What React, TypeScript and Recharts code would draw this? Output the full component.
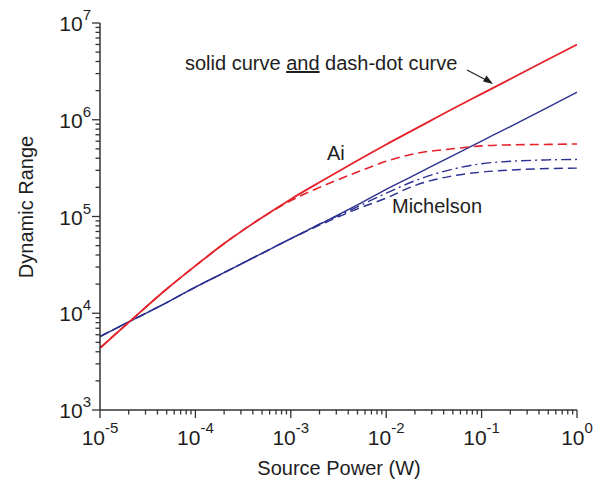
import React from 'react';
import { LineChart, Line, XAxis, YAxis, Customized } from 'recharts';

// Source power (W)
const power = [1e-5, 2e-5, 5e-5, 1e-4, 2e-4, 5e-4, 1e-3, 2e-3, 5e-3, 1e-2, 2e-2, 5e-2, 1e-1, 2e-1, 5e-1, 1];

// Ai interferometer
const aiSolid = [4.37e3, 8.04e3, 1.78e4, 3.09e4, 5.25e4, 9.77e4, 1.51e5, 2.26e5, 3.79e5, 5.55e5, 8.0e5, 1.3e6, 1.85e6, 2.64e6, 4.22e6, 6.0e6];
const aiDashed = [4.37e3, 8.04e3, 1.78e4, 3.09e4, 5.25e4, 9.77e4, 1.46e5, 2.0e5, 2.88e5, 3.72e5, 4.47e5, 5.01e5, 5.37e5, 5.5e5, 5.56e5, 5.62e5];

// Michelson interferometer
const michSolid = [5.75e3, 8.13e3, 1.29e4, 1.86e4, 2.63e4, 4.17e4, 5.89e4, 8.32e4, 1.32e5, 1.91e5, 2.69e5, 4.27e5, 6.03e5, 8.51e5, 1.35e6, 1.93e6];
const michDashDot = [5.75e3, 8.13e3, 1.29e4, 1.86e4, 2.63e4, 4.17e4, 5.89e4, 8.32e4, 1.26e5, 1.74e5, 2.34e5, 3.09e5, 3.51e5, 3.72e5, 3.85e5, 3.89e5];
const michDashed = [5.75e3, 8.13e3, 1.29e4, 1.86e4, 2.63e4, 4.17e4, 5.89e4, 8.13e4, 1.2e5, 1.55e5, 2.09e5, 2.63e5, 2.88e5, 3.02e5, 3.13e5, 3.16e5];

// Tick values (majors + minors)
const xTicks = [
  1e-5, 2e-5, 3e-5, 4e-5, 5e-5, 6e-5, 7e-5, 8e-5, 9e-5,
  1e-4, 2e-4, 3e-4, 4e-4, 5e-4, 6e-4, 7e-4, 8e-4, 9e-4,
  1e-3, 2e-3, 3e-3, 4e-3, 5e-3, 6e-3, 7e-3, 8e-3, 9e-3,
  1e-2, 2e-2, 3e-2, 4e-2, 5e-2, 6e-2, 7e-2, 8e-2, 9e-2,
  1e-1, 2e-1, 3e-1, 4e-1, 5e-1, 6e-1, 7e-1, 8e-1, 9e-1,
  1,
];
const yTicks = [
  1e3, 2e3, 3e3, 4e3, 5e3, 6e3, 7e3, 8e3, 9e3,
  1e4, 2e4, 3e4, 4e4, 5e4, 6e4, 7e4, 8e4, 9e4,
  1e5, 2e5, 3e5, 4e5, 5e5, 6e5, 7e5, 8e5, 9e5,
  1e6, 2e6, 3e6, 4e6, 5e6, 6e6, 7e6, 8e6, 9e6,
  1e7,
];

const rows = power.map((p, i) => ({
  p,
  aiSolid: aiSolid[i],
  aiDashed: aiDashed[i],
  michSolid: michSolid[i],
  michDashDot: michDashDot[i],
  michDashed: michDashed[i],
}));

const FONT = '"Liberation Sans", Arial, Helvetica, sans-serif';
const RED = '#e5222a';
const BLUE = '#2c3190';
const AXIS = '#333333';
const TEXT = '#1e1e1e';

const expOf = (v: number) => {
  const e = Math.log10(v);
  const r = Math.round(e);
  return { r, major: Math.abs(e - r) < 1e-6 };
};

const XTick = (props: any) => {
  const { x, y, payload } = props;
  const { r, major } = expOf(payload.value);
  return (
    <g>
      <line x1={x} x2={x} y1={y} y2={y + (major ? 8 : 4.5)} stroke={AXIS} strokeWidth={1.3} />
      {major && (
        <text x={x} y={y + 35} textAnchor="middle" fontSize={21} fill={TEXT} fontFamily={FONT}>
          10<tspan dy={-12} fontSize={15}>{String(r)}</tspan>
        </text>
      )}
    </g>
  );
};

const YTick = (props: any) => {
  const { x, y, payload } = props;
  const { r, major } = expOf(payload.value);
  return (
    <g>
      <line x1={x} x2={x - (major ? 8 : 4.5)} y1={y} y2={y} stroke={AXIS} strokeWidth={1.3} />
      {major && (
        <text x={x - 9} y={y + 8} textAnchor="end" fontSize={21} fill={TEXT} fontFamily={FONT}>
          10<tspan dy={-11} fontSize={15}>{String(r)}</tspan>
        </text>
      )}
    </g>
  );
};

const Annotations = () => (
  <g fontFamily={FONT} fill={TEXT}>
    <text x={185} y={70} fontSize={20}>
      solid curve <tspan textDecoration="underline" style={{ textDecoration: 'underline' }}>and</tspan> dash-dot curve
    </text>
    <line x1={467} y1={70} x2={487} y2={80.5} stroke={TEXT} strokeWidth={1.2} />
    <polygon points="493,84 483,81.5 486.5,75.5" fill={TEXT} />
    <text x={327} y={160} fontSize={20}>Ai</text>
    <text x={392} y={213} fontSize={20}>Michelson</text>
    <text x={339} y={475} fontSize={20} textAnchor="middle">Source Power (W)</text>
    <text transform="translate(33,207) rotate(-90)" fontSize={20} textAnchor="middle">Dynamic Range</text>
  </g>
);

export default function App() {
  return (
    <div style={{ position: 'absolute', left: 0, top: 0, background: '#fff' }}>
      <LineChart width={600} height={481} data={rows} margin={{ top: 23, right: 23, left: 0, bottom: 0 }}>
        <XAxis
          dataKey="p"
          type="number"
          scale="log"
          domain={[1e-5, 1]}
          allowDataOverflow
          ticks={xTicks}
          interval={0}
          tick={<XTick />}
          tickLine={false}
          tickSize={0}
          tickMargin={0}
          height={71}
          axisLine={{ stroke: AXIS, strokeWidth: 1.5 }}
        />
        <YAxis
          type="number"
          scale="log"
          domain={[1e3, 1e7]}
          allowDataOverflow
          ticks={yTicks}
          interval={0}
          tick={<YTick />}
          tickLine={false}
          tickSize={0}
          tickMargin={0}
          width={100}
          axisLine={{ stroke: AXIS, strokeWidth: 1.5 }}
        />
        <Line dataKey="michDashed" type="monotone" stroke={BLUE} strokeWidth={1.4} strokeDasharray="9 5" dot={false} isAnimationActive={false} />
        <Line dataKey="michDashDot" type="monotone" stroke={BLUE} strokeWidth={1.4} strokeDasharray="10 4 2 4" dot={false} isAnimationActive={false} />
        <Line dataKey="michSolid" type="monotone" stroke={BLUE} strokeWidth={1.4} dot={false} isAnimationActive={false} />
        <Line dataKey="aiDashed" type="monotone" stroke={RED} strokeWidth={1.6} strokeDasharray="9 5" dot={false} isAnimationActive={false} />
        <Line dataKey="aiSolid" type="monotone" stroke={RED} strokeWidth={1.8} dot={false} isAnimationActive={false} />
        <Customized component={Annotations} />
      </LineChart>
    </div>
  );
}
